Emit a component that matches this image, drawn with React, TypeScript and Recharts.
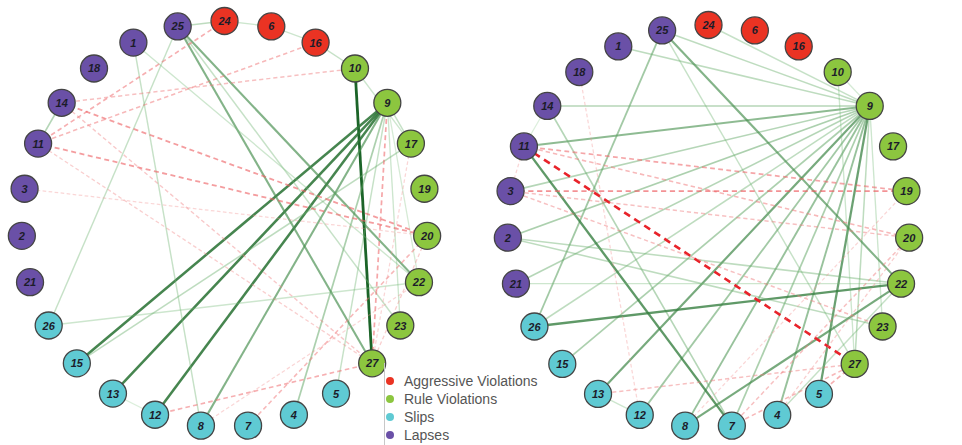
import React from "react";
import { ScatterChart, Scatter, XAxis, YAxis } from "recharts";

const W = 962;
const H = 445;

// nodes clockwise from top
const ringOrder = [24, 6, 16, 10, 9, 17, 19, 20, 22, 23, 27, 5, 4, 7, 8, 12, 13, 15, 26, 21, 2, 3, 11, 14, 18, 1, 25];

const groupNames = ["Aggressive Violations", "Rule Violations", "Slips", "Lapses"];
const groupColors = ["#ea3323", "#8cc63f", "#5fcad3", "#6a50a7"];
const aggressive = [24, 6, 16];
const ruleViolations = [10, 9, 17, 19, 20, 22, 23, 27];
const slips = [5, 4, 7, 8, 12, 13, 15, 26];
const lapses = [21, 2, 3, 11, 14, 18, 1, 25];

// [from, to, weight]; negative weight = red dashed
const leftEdges: [number, number, number][] = [
  [10, 27, 1.0], [9, 15, 0.85], [9, 13, 0.85], [9, 12, 0.85], [9, 8, 0.6], [9, 4, 0.4], [9, 5, 0.25],
  [25, 27, 0.6], [25, 22, 0.6], [25, 23, 0.25], [1, 22, 0.2], [1, 8, 0.25], [25, 26, 0.25], [26, 22, 0.2],
  [17, 15, 0.3], [11, 14, 0.35], [9, 17, 0.25], [10, 17, 0.2], [10, 16, 0.25], [16, 6, 0.2], [6, 24, 0.2],
  [24, 25, 0.3], [9, 23, 0.2], [9, 22, 0.15], [13, 12, 0.1],
  [14, 10, -0.3], [11, 24, -0.4], [11, 16, -0.35], [14, 20, -0.5], [11, 20, -0.5], [3, 20, -0.15],
  [9, 27, -0.45], [12, 27, -0.4], [7, 20, -0.35], [11, 27, -0.2], [14, 27, -0.25], [20, 27, -0.2],
  [17, 27, -0.15], [8, 22, -0.15],
];

const rightEdges: [number, number, number][] = [
  [9, 25, 0.3], [9, 1, 0.3], [9, 24, 0.25], [9, 14, 0.35], [9, 11, 0.55], [9, 3, 0.35], [9, 2, 0.4],
  [9, 21, 0.35], [9, 26, 0.3], [9, 15, 0.4], [9, 13, 0.65], [9, 12, 0.45], [9, 8, 0.5], [9, 7, 0.4],
  [9, 4, 0.5], [9, 5, 0.7], [9, 27, 0.3], [9, 23, 0.2], [9, 10, 0.15],
  [25, 22, 0.6], [25, 26, 0.45], [25, 27, 0.25], [11, 7, 0.75], [14, 7, 0.35], [26, 22, 0.75],
  [8, 22, 0.65], [2, 22, 0.3], [2, 23, 0.3], [21, 22, 0.2], [4, 22, 0.25], [13, 12, 0.2], [10, 27, 0.2],
  [14, 11, 0.1],
  [11, 27, -1.0], [11, 19, -0.45], [11, 20, -0.35], [3, 19, -0.55], [3, 20, -0.3], [3, 23, -0.3],
  [13, 27, -0.3], [7, 20, -0.3], [7, 27, -0.35], [5, 27, -0.4], [4, 20, -0.2], [8, 19, -0.15],
  [11, 3, -0.15], [18, 12, -0.15],
];

const layouts = [
  { cx: 224.5, cy: 224, r: 203 },
  { cx: 708.5, cy: 226, r: 201 },
];

function groupOf(id: number) {
  if (aggressive.includes(id)) return 0;
  if (ruleViolations.includes(id)) return 1;
  if (slips.includes(id)) return 2;
  return 3;
}

function pos(id: number, g: number) {
  const L = layouts[g];
  const i = ringOrder.indexOf(id);
  const a = ((-90 + (360 / ringOrder.length) * i) * Math.PI) / 180;
  return { x: L.cx + L.r * Math.cos(a), y: L.cy + L.r * Math.sin(a), id, group: groupOf(id) };
}

function mix(c1: string, c2: string, t: number) {
  const p = (c: string, k: number) => parseInt(c.slice(1 + k * 2, 3 + k * 2), 16);
  const out = [0, 1, 2].map((k) => Math.round(p(c1, k) + (p(c2, k) - p(c1, k)) * t));
  return "#" + out.map((v) => v.toString(16).padStart(2, "0")).join("");
}

function edgeStyle(w: number) {
  const a = Math.abs(w);
  if (w > 0) {
    return {
      stroke: mix("#8ccf8c", "#1b6428", a),
      strokeWidth: 1 + 1.8 * a,
      strokeOpacity: 0.2 + 0.8 * a,
    };
  }
  return {
    stroke: mix("#f2a0a0", "#e8232a", a),
    strokeWidth: 1 + 1.6 * a,
    strokeOpacity: 0.25 + 0.75 * a,
    strokeDasharray: `${3 + 4 * a} ${2 + 3 * a}`,
  };
}

const Empty = () => <g />;

const NodeShape = (props: any) => {
  const { cx, cy, payload } = props;
  return (
    <g>
      <circle cx={cx} cy={cy} r={13.5} fill={groupColors[payload.group]} stroke="#444" strokeWidth={1.3} />
      <text
        x={cx}
        y={cy + 4}
        textAnchor="middle"
        fontSize={11}
        fontStyle="italic"
        fontWeight="bold"
        fontFamily="Liberation Sans, Arial, sans-serif"
        fill="#1c1c2a"
      >
        {payload.id}
      </text>
    </g>
  );
};

export default function App() {
  const graphs = [leftEdges, rightEdges];
  return (
    <div style={{ position: "absolute", left: 0, top: 0, width: W, height: H, background: "#fff" }}>
      <ScatterChart width={W} height={H} margin={{ top: 0, right: 0, bottom: 0, left: 0 }}>
        <XAxis type="number" dataKey="x" domain={[0, W]} hide />
        <YAxis type="number" dataKey="y" domain={[0, H]} reversed hide />
        {graphs.map((edges, g) =>
          edges.map(([a, b, w], i) => (
            <Scatter
              key={`e-${g}-${i}`}
              data={[pos(a, g), pos(b, g)]}
              line={edgeStyle(w)}
              shape={Empty}
              legendType="none"
              isAnimationActive={false}
            />
          ))
        )}
        {[0, 1].map((g) => (
          <Scatter
            key={`n-${g}`}
            data={ringOrder.map((id) => pos(id, g))}
            shape={NodeShape}
            legendType="none"
            isAnimationActive={false}
          />
        ))}
      </ScatterChart>
      <div style={{ position: "absolute", left: 384, top: 363, width: 1, height: 82, background: "#c8c8c8" }} />
      <div
        style={{
          position: "absolute",
          left: 386,
          top: 372,
          fontFamily: "Liberation Sans, Arial, sans-serif",
          fontSize: 14,
          color: "#555",
        }}
      >
        {groupNames.map((name, i) => (
          <div key={name} style={{ height: 18, display: "flex", alignItems: "center" }}>
            <span
              style={{
                width: 8,
                height: 8,
                borderRadius: 4,
                background: groupColors[i],
                display: "inline-block",
                marginRight: 10,
              }}
            />
            {name}
          </div>
        ))}
      </div>
    </div>
  );
}
